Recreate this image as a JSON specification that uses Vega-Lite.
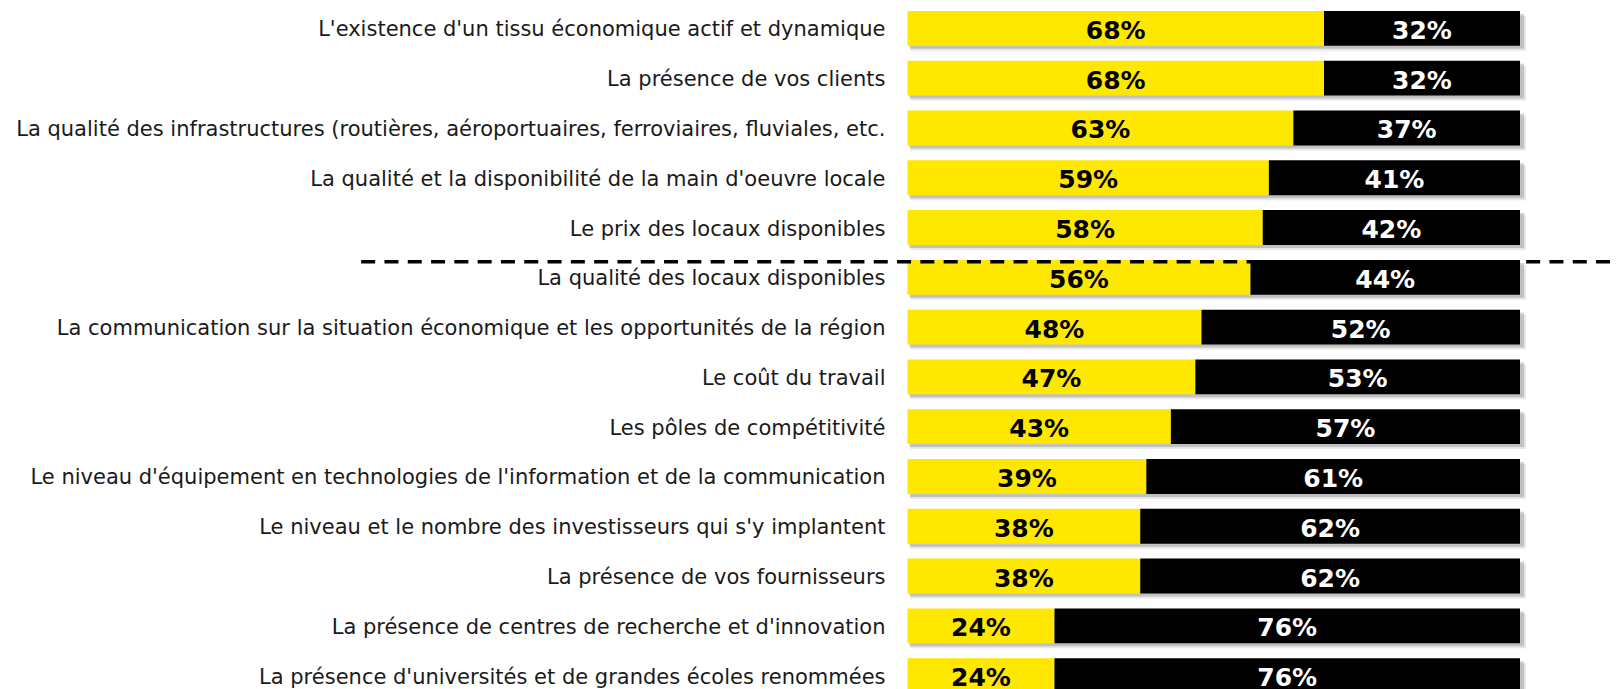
{
  "$schema": "https://vega.github.io/schema/vega-lite/v6.json",
  "autosize": {"type": "none"},
  "width": 612.5,
  "height": 689,
  "padding": {"left": 907.5, "top": 0, "right": 97, "bottom": 0},
  "background": "white",
  "config": {"view": {"stroke": null}},
  "data": {"values": [
    {"cat": "L'existence d'un tissu économique actif et dynamique", "oui": 0.68, "non": 0.32},
    {"cat": "La présence de vos clients", "oui": 0.68, "non": 0.32},
    {"cat": "La qualité des infrastructures (routières, aéroportuaires, ferroviaires, fluviales, etc.", "oui": 0.63, "non": 0.37},
    {"cat": "La qualité et la disponibilité de la main d'oeuvre locale", "oui": 0.59, "non": 0.41},
    {"cat": "Le prix des locaux disponibles", "oui": 0.58, "non": 0.42},
    {"cat": "La qualité des locaux disponibles", "oui": 0.56, "non": 0.44},
    {"cat": "La communication sur la situation économique et les opportunités de la région", "oui": 0.48, "non": 0.52},
    {"cat": "Le coût du travail", "oui": 0.47, "non": 0.53},
    {"cat": "Les pôles de compétitivité", "oui": 0.43, "non": 0.57},
    {"cat": "Le niveau d'équipement en technologies de l'information et de la communication", "oui": 0.39, "non": 0.61},
    {"cat": "Le niveau et le nombre des investisseurs qui s'y implantent", "oui": 0.38, "non": 0.62},
    {"cat": "La présence de vos fournisseurs", "oui": 0.38, "non": 0.62},
    {"cat": "La présence de centres de recherche et d'innovation", "oui": 0.24, "non": 0.76},
    {"cat": "La présence d'universités et de grandes écoles renommées", "oui": 0.24, "non": 0.76}
  ]},
  "encoding": {
    "y": {
      "field": "cat", "type": "nominal",
      "scale": {
        "domain": [
          "L'existence d'un tissu économique actif et dynamique",
          "La présence de vos clients",
          "La qualité des infrastructures (routières, aéroportuaires, ferroviaires, fluviales, etc.",
          "La qualité et la disponibilité de la main d'oeuvre locale",
          "Le prix des locaux disponibles",
          "La qualité des locaux disponibles",
          "La communication sur la situation économique et les opportunités de la région",
          "Le coût du travail",
          "Les pôles de compétitivité",
          "Le niveau d'équipement en technologies de l'information et de la communication",
          "Le niveau et le nombre des investisseurs qui s'y implantent",
          "La présence de vos fournisseurs",
          "La présence de centres de recherche et d'innovation",
          "La présence d'universités et de grandes écoles renommées"
        ],
        "range": [3.5, 700.5],
        "paddingInner": 0.3,
        "paddingOuter": 0.15
      },
      "axis": {
        "title": null, "ticks": false, "domain": false, "grid": false,
        "labelPadding": 22.5, "labelFont": "DejaVu Sans", "labelFontSize": 21,
        "labelColor": "#1a1a1a", "labelLimit": 1000, "labelOffset": 2
      }
    }
  },
  "layer": [
    {
      "mark": {"type": "bar", "color": "#7a7a7a", "opacity": 0.18, "xOffset": 3, "x2Offset": 6, "yOffset": 5},
      "encoding": {
        "x": {"datum": 0, "type": "quantitative", "scale": {"domain": [0, 1]}, "axis": null},
        "x2": {"datum": 1, "type": "quantitative"}
      }
    },
    {
      "mark": {"type": "bar", "color": "#7a7a7a", "opacity": 0.35, "xOffset": 2, "x2Offset": 4, "yOffset": 3},
      "encoding": {
        "x": {"datum": 0, "type": "quantitative", "scale": {"domain": [0, 1]}, "axis": null},
        "x2": {"datum": 1, "type": "quantitative"}
      }
    },
    {
      "mark": {"type": "bar", "color": "#FFE800"},
      "encoding": {
        "x": {"datum": 0, "type": "quantitative", "scale": {"domain": [0, 1]}, "axis": null},
        "x2": {"field": "oui", "type": "quantitative"}
      }
    },
    {
      "data": {"values": [{"cat": "La qualité des locaux disponibles", "x": -0.892, "x2": 1.15}]},
      "mark": {"type": "rule", "color": "#000000", "strokeWidth": 3.5, "strokeDash": [14, 9.3], "yOffset": 1.8},
      "encoding": {
        "y": {"field": "cat", "type": "nominal", "bandPosition": 0},
        "x": {"field": "x", "type": "quantitative", "scale": {"domain": [0, 1]}, "axis": null},
        "x2": {"field": "x2", "type": "quantitative"}
      }
    },
    {
      "mark": {"type": "bar", "color": "#000000"},
      "encoding": {
        "x": {"field": "oui", "type": "quantitative", "scale": {"domain": [0, 1]}, "axis": null},
        "x2": {"datum": 1, "type": "quantitative"}
      }
    },
    {
      "transform": [{"fold": ["oui", "non"], "as": ["key", "value"]}],
      "mark": {"type": "text", "font": "DejaVu Sans", "fontWeight": "bold", "fontSize": 25, "baseline": "middle", "align": "center", "dy": 2.5},
      "encoding": {
        "x": {"field": "value", "type": "quantitative", "stack": "zero", "bandPosition": 0.5, "scale": {"domain": [0, 1]}, "axis": null},
        "order": {"field": "key", "type": "nominal", "sort": "descending"},
        "text": {"field": "value", "type": "quantitative", "format": ".0%"},
        "color": {"field": "key", "type": "nominal", "scale": {"domain": ["oui", "non"], "range": ["#000000", "#ffffff"]}, "legend": null}
      }
    }
  ]
}
